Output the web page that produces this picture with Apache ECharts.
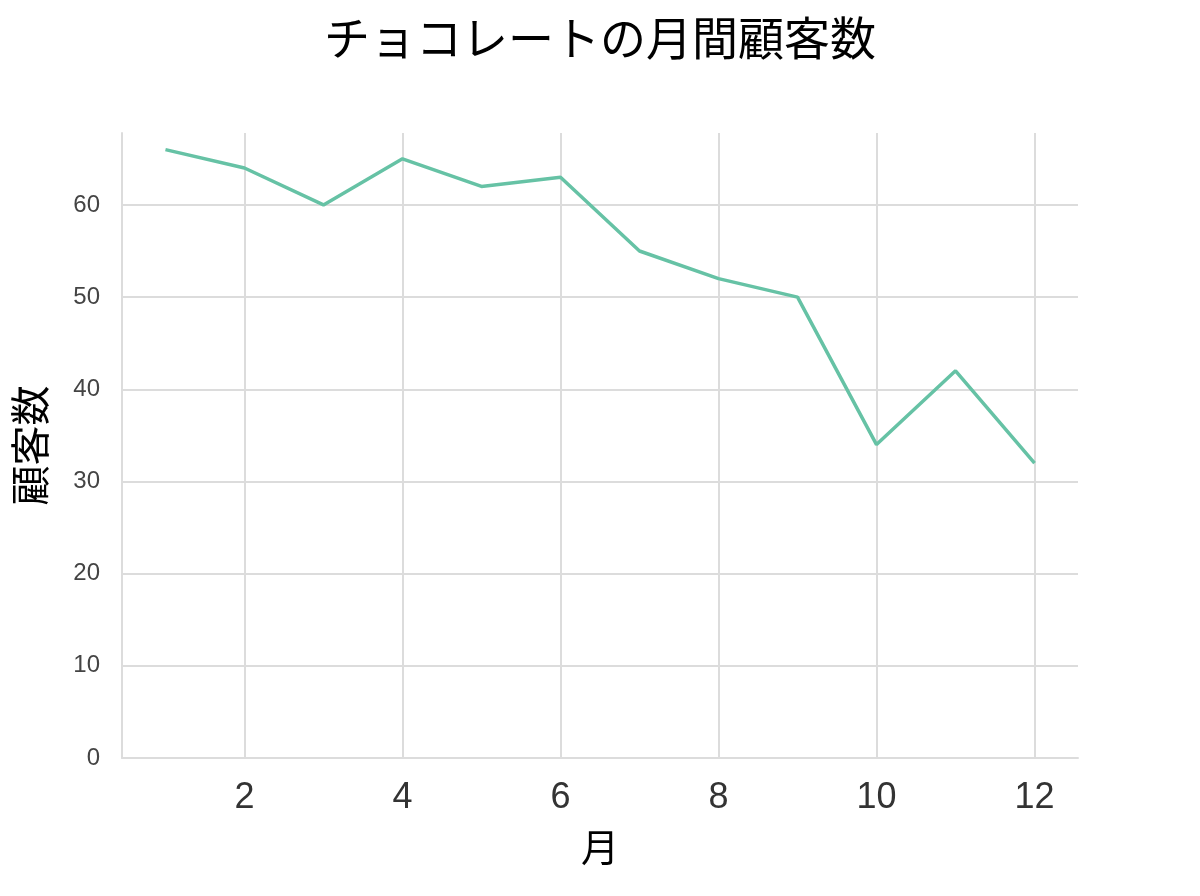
<!DOCTYPE html>
<html>
<head>
<meta charset="utf-8">
<script src="https://cdn.jsdelivr.net/npm/echarts@6/dist/echarts.min.js"></script>
<style>
html,body{margin:0;padding:0;background:#fff;}
#chart{width:1200px;height:896px;}
</style>
</head>
<body>
<div id="chart"></div>
<script>
const months = [1,2,3,4,5,6,7,8,9,10,11,12];
const customers = [66,64,60,65,62,63,55,52,50,34,42,32];
const xTicks = [2,4,6,8,10,12];
const yTicks = [0,10,20,30,40,50,60];

const chart = echarts.init(document.getElementById('chart'));
const gridColor = '#dcdcdc';
chart.setOption({
  backgroundColor: '#ffffff',
  animation: false,
  title: {
    text: 'チョコレートの月間顧客数',
    left: 'center',
    top: 10,
    textStyle: {fontFamily: 'Noto Sans CJK JP', fontSize: 46, fontWeight: 'normal', color: '#000'}
  },
  grid: {left: 122, right: 122, top: 133, bottom: 138, containLabel: false, outerBoundsMode: 'none'},
  xAxis: {
    type: 'value',
    min: 0.45,
    max: 12.55,
    name: '月',
    nameLocation: 'middle',
    nameGap: 70,
    nameTextStyle: {fontFamily: 'Noto Sans CJK JP', fontSize: 38, color: '#000'},
    axisLine: {show: true, lineStyle: {color: gridColor, width: 2}},
    axisTick: {show: false, customValues: xTicks},
    axisLabel: {customValues: xTicks, fontFamily: 'Liberation Sans', fontSize: 36, color: '#333', margin: 22},
    splitLine: {show: true, lineStyle: {color: gridColor, width: 2}}
  },
  yAxis: {
    type: 'value',
    min: 0,
    max: 67.8,
    name: '顧客数',
    nameLocation: 'middle',
    nameGap: 72,
    nameRotate: 90,
    nameTextStyle: {fontFamily: 'Noto Sans CJK JP', fontSize: 40, color: '#000'},
    axisLine: {show: true, lineStyle: {color: gridColor, width: 2}},
    axisTick: {show: false, customValues: yTicks},
    axisLabel: {customValues: yTicks, fontFamily: 'Liberation Sans', fontSize: 24, color: '#444', margin: 22},
    splitLine: {show: true, lineStyle: {color: gridColor, width: 2}}
  },
  series: [{
    type: 'line',
    data: months.map((m, i) => [m, customers[i]]),
    showSymbol: false,
    lineStyle: {color: '#66c2a5', width: 3.5},
    itemStyle: {color: '#66c2a5'}
  }]
});
</script>
</body>
</html>
